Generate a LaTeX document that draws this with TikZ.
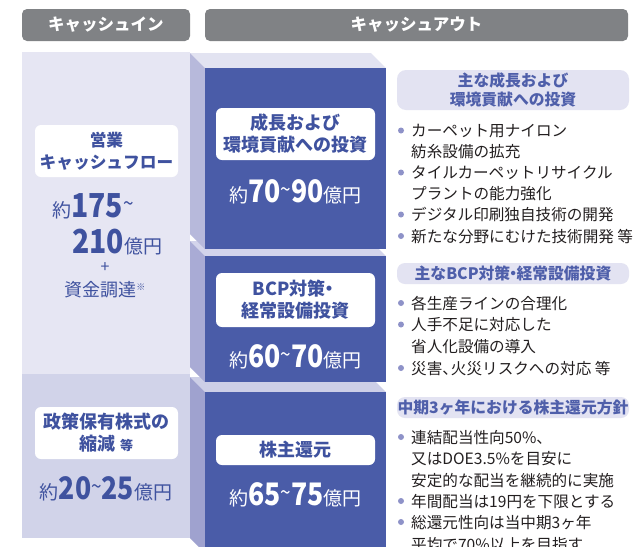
\documentclass[tikz,border=0pt]{standalone}
\usepackage{fontspec}
\setmainfont{Noto Sans CJK JP}
\newfontfamily\numfont[FakeStretch=0.86]{Noto Sans CJK JP}
\definecolor{hdrgray}{HTML}{808285}
\definecolor{colA}{HTML}{E6E6F3}
\definecolor{colB}{HTML}{D1D3E9}
\definecolor{top1}{HTML}{E2E3F1}
\definecolor{top2}{HTML}{D3D4EB}
\definecolor{top3}{HTML}{CDCFE7}
\definecolor{side1}{HTML}{B7B9DB}
\definecolor{side2}{HTML}{A9ABD5}
\definecolor{side3}{HTML}{9FA2CF}
\definecolor{blockblue}{HTML}{4A5CA8}
\definecolor{lblblue}{HTML}{3F529F}
\definecolor{ttlblue}{HTML}{4F5FAA}
\definecolor{ttlfill}{HTML}{E3E3F2}
\definecolor{bulletc}{HTML}{8E92C8}
\definecolor{bodytxt}{HTML}{231F20}
\newcommand\myfs[2]{\fontsize{#1}{#2}\selectfont}
\newcommand\tdot{\hspace{-0.3em}・\hspace{-0.3em}}
\newcommand\amount[2]{{\myfs{19}{19}約}{\numfont\bfseries\myfs{31}{31}#1\raisebox{5pt}{\mdseries\myfs{22}{22}\textasciitilde}#2}{\myfs{19}{19}億円}}
\begin{document}
\begin{tikzpicture}[x=1pt,y=-1pt,
  hdr/.style={fill=hdrgray, rounded corners=5pt, inner sep=0pt, text=white, font=\bfseries\myfs{16.5}{16.5}},
  whitebox/.style={fill=white, rounded corners=6pt, inner sep=0pt, align=center, text=lblblue, font=\bfseries\myfs{18}{22}},
  ttlbox/.style={fill=ttlfill, rounded corners=9pt, inner sep=0pt, align=center, text=ttlblue, font=\bfseries\myfs{15.8}{18.5}},
  amt/.style={anchor=base, inner sep=0pt},
  item/.style={anchor=base west, inner sep=0pt, text=bodytxt, font=\myfs{15.6}{15.6}},
  dot/.style={circle, fill=bulletc, inner sep=0pt, minimum size=6pt}]
\clip (0,0) rectangle (633,547);
\fill[white] (0,0) rectangle (633,547);
% headers
\node[hdr, minimum width=168pt, minimum height=32pt] (hin) at (106,25) {キャッシュイン};
\node[hdr, minimum width=423pt, minimum height=32pt] (hout) at (416.5,25) {キャッシュアウト};
% left column
\fill[colA] (22,52) rectangle (190,374);
\fill[colB] (22,374) rectangle (190,538);
% blocks
\foreach \t/\b/\sc/\tc in {392/553/side3/top3, 256/382/side2/top2, 68/249/side1/top1} {
  \fill[\tc] (190,\t-15) -- (371,\t-15) -- (386,\t) -- (205,\t) -- cycle;
  \fill[\sc] (190,\t-15) -- (205,\t) -- (205,\b) -- (190,\b-15) -- cycle;
  \fill[blockblue] (205,\t) rectangle (386,\b);
}
% left column contents
\node[whitebox, minimum width=143pt, minimum height=52pt, font=\bfseries\myfs{16.7}{22}] (opcf) at (106.5,151) {営業\\キャッシュフロー};
\node[anchor=base west, inner sep=0pt, text=lblblue] (amtL1) at (52,217) {{\myfs{19}{19}約}{\numfont\bfseries\myfs{33}{33}175\raisebox{6pt}{\mdseries\myfs{22}{22}\textasciitilde}}};
\node[anchor=base west, inner sep=0pt, text=lblblue] (amtL2) at (72,253) {{\numfont\bfseries\myfs{33}{33}210}{\myfs{19}{19}億円}};
\node[inner sep=0pt, text=lblblue, font=\myfs{16}{16}] (plus) at (105,268) {+};
\node[inner sep=0pt, text=lblblue, font=\myfs{18}{18}] (fund) at (105,290) {資金調達\raisebox{6pt}{\myfs{9}{9}※}};
\node[whitebox, minimum width=143pt, minimum height=52pt] (seisaku) at (106.5,433) {政策保有株式の\\縮減 {\myfs{13}{13}等}};
\node[amt, text=lblblue] (amtL3) at (106,499) {\amount{20}{25}};
% blue block contents
\node[whitebox, minimum width=159pt, minimum height=52pt] (grow) at (295.5,134) {成長および\\環境貢献への投資};
\node[amt, text=white] (amt1) at (295.5,202) {\amount{70}{90}};
\node[whitebox, minimum width=159pt, minimum height=54pt] (bcp) at (295.5,300) {BCP対策\hspace{-0.3em}・\\経常設備投資};
\node[amt, text=white] (amt2) at (295.5,367) {\amount{60}{70}};
\node[whitebox, minimum width=159pt, minimum height=30pt] (share) at (295.5,450) {株主還元};
\node[amt, text=white] (amt3) at (295.5,505) {\amount{65}{75}};
% right titles
\node[ttlbox, minimum width=232pt, minimum height=40pt] (rt1) at (513,90) {主な成長および\\環境貢献への投資};
\node[ttlbox, minimum width=232pt, minimum height=21pt, rounded corners=8pt] (rt2) at (513,273.5) {主なBCP対策\tdot 経常設備投資};
\node[ttlbox, minimum width=232pt, minimum height=21pt, rounded corners=8pt] (rt3) at (513,407.5) {中期3ヶ年における株主還元方針};
% list 1
\node[dot] (d11) at (401,130.5) {};
\node[dot] (d12) at (401,172.5) {};
\node[dot] (d13) at (401,214.5) {};
\node[dot] (d14) at (401,236) {};
\node[item] (t11) at (411,136) {カーペット用ナイロン};
\node[item] (t12) at (411,157) {紡糸設備の拡充};
\node[item] (t13) at (411,178) {タイルカーペットリサイクル};
\node[item] (t14) at (411,199.5) {プラントの能力強化};
\node[item] (t15) at (411,220.5) {デジタル印刷独自技術の開発};
\node[item] (t16) at (411,242) {新たな分野にむけた技術開発 等};
% list 2
\node[dot] (d21) at (401,303) {};
\node[dot] (d22) at (401,324.5) {};
\node[dot] (d23) at (401,368) {};
\node[item] (t21) at (411,309) {各生産ラインの合理化};
\node[item] (t22) at (411,330.5) {人手不足に対応した};
\node[item] (t23) at (411,352) {省人化設備の導入};
\node[item] (t24) at (411,374) {災害、\hspace{-0.45em}火災リスクへの対応 等};
% list 3
\node[dot] (d31) at (401,437) {};
\node[dot] (d32) at (401,501) {};
\node[dot] (d33) at (401,522) {};
\node[item] (t31) at (411,443) {連結配当性向50\%、};
\node[item] (t32) at (411,464.5) {又はDOE3.5\%を目安に};
\node[item] (t33) at (411,486) {安定的な配当を継続的に実施};
\node[item] (t34) at (411,507) {年間配当は19円を下限とする};
\node[item] (t35) at (411,528.5) {総還元性向は当中期3ヶ年};
\node[item] (t36) at (411,550) {平均で70\%以上を目指す};
\end{tikzpicture}
\end{document}
